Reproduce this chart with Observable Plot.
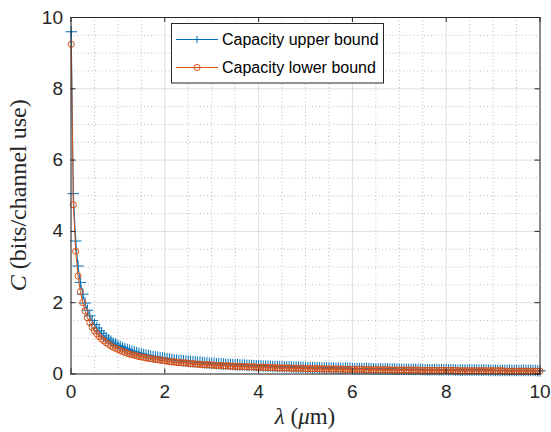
<!DOCTYPE html>
<html><head><meta charset="utf-8">
<script src="https://cdn.jsdelivr.net/npm/d3@7"></script>
<script src="https://cdn.jsdelivr.net/npm/@observablehq/plot@0.6"></script>
<style>
html,body{margin:0;padding:0;background:#fff;}
#chart{width:551px;height:432px;}
</style></head><body><div id="chart"></div>
<script>
// ---- data ----
const seriesNames = ["Capacity upper bound", "Capacity lower bound"];
const lambdaFirst = 0.005;   // first sample (µm)
const lambdaStep = 0.05;     // sample spacing (µm)
const upper = [9.60,
 5.06,3.73,3.03,2.57,2.24,1.99,1.79,1.63,1.50,1.39,1.29,1.21,1.14,1.07,1.01,0.96,0.92,0.87,0.84,0.80,
 0.77,0.74,0.71,0.69,0.66,0.64,0.62,0.60,0.58,0.56,0.55,0.53,0.52,0.50,0.49,0.48,0.47,0.46,0.45,0.44,
 0.43,0.42,0.41,0.40,0.39,0.38,0.38,0.37,0.36,0.36,0.35,0.34,0.34,0.33,0.33,0.32,0.31,0.31,0.30,0.30,
 0.30,0.29,0.29,0.28,0.28,0.27,0.27,0.27,0.26,0.26,0.26,0.25,0.25,0.25,0.24,0.24,0.24,0.23,0.23,0.23,
 0.23,0.22,0.22,0.22,0.22,0.21,0.21,0.21,0.21,0.20,0.20,0.20,0.20,0.20,0.19,0.19,0.19,0.19,0.19,0.18,
 0.18,0.18,0.18,0.18,0.18,0.17,0.17,0.17,0.17,0.17,0.17,0.17,0.16,0.16,0.16,0.16,0.16,0.16,0.16,0.15,
 0.15,0.15,0.15,0.15,0.15,0.15,0.15,0.15,0.14,0.14,0.14,0.14,0.14,0.14,0.14,0.14,0.14,0.14,0.13,0.13,
 0.13,0.13,0.13,0.13,0.13,0.13,0.13,0.13,0.13,0.12,0.12,0.12,0.12,0.12,0.12,0.12,0.12,0.12,0.12,0.12,
 0.12,0.12,0.12,0.11,0.11,0.11,0.11,0.11,0.11,0.11,0.11,0.11,0.11,0.11,0.11,0.11,0.11,0.11,0.10,0.10,
 0.10,0.10,0.10,0.10,0.10,0.10,0.10,0.10,0.10,0.10,0.10,0.10,0.10,0.10,0.10,0.10,0.10,0.10,0.09,0.09];
const lower = [9.25,
 4.75,3.44,2.75,2.31,2.00,1.77,1.58,1.44,1.31,1.21,1.13,1.05,0.98,0.93,0.88,0.83,0.79,0.75,0.72,0.69,
 0.66,0.63,0.61,0.58,0.56,0.54,0.53,0.51,0.49,0.48,0.47,0.45,0.44,0.43,0.42,0.41,0.40,0.39,0.38,0.37,
 0.36,0.35,0.34,0.34,0.33,0.32,0.32,0.31,0.31,0.30,0.29,0.29,0.28,0.28,0.27,0.27,0.26,0.26,0.26,0.25,
 0.25,0.24,0.24,0.24,0.23,0.23,0.23,0.22,0.22,0.22,0.21,0.21,0.21,0.21,0.20,0.20,0.20,0.20,0.19,0.19,
 0.19,0.19,0.19,0.18,0.18,0.18,0.18,0.17,0.17,0.17,0.17,0.17,0.17,0.16,0.16,0.16,0.16,0.16,0.16,0.15,
 0.15,0.15,0.15,0.15,0.15,0.15,0.14,0.14,0.14,0.14,0.14,0.14,0.14,0.14,0.14,0.13,0.13,0.13,0.13,0.13,
 0.13,0.13,0.13,0.13,0.12,0.12,0.12,0.12,0.12,0.12,0.12,0.12,0.12,0.12,0.12,0.11,0.11,0.11,0.11,0.11,
 0.11,0.11,0.11,0.11,0.11,0.11,0.11,0.11,0.10,0.10,0.10,0.10,0.10,0.10,0.10,0.10,0.10,0.10,0.10,0.10,
 0.10,0.10,0.10,0.10,0.09,0.09,0.09,0.09,0.09,0.09,0.09,0.09,0.09,0.09,0.09,0.09,0.09,0.09,0.09,0.09,
 0.09,0.09,0.09,0.09,0.08,0.08,0.08,0.08,0.08,0.08,0.08,0.08,0.08,0.08,0.08,0.08,0.08,0.08,0.08,0.08];
const xTicks = [0, 2, 4, 6, 8, 10];
const yTicks = [0, 2, 4, 6, 8, 10];
const minorTicks = [0.5,1,1.5,2.5,3,3.5,4.5,5,5.5,6.5,7,7.5,8.5,9,9.5];
const xLabel = ["λ", " (", "μ", "m)"];
const yLabel = ["C", " (bits/channel use)"];

// ---- build ----
const lam = i => (i === 0 ? lambdaFirst : i * lambdaStep);
const upperData = upper.map((v, i) => ({x: lam(i), y: v}));
const lowerData = lower.map((v, i) => ({x: lam(i), y: v}));

const W = 551, H = 432, mL = 70.5, mR = 11.5, mT = 17, mB = 58.5;
const innerW = W - mL - mR, innerH = H - mT - mB;
const blue = "#0072BD", orange = "#D95319", ink = "#262626";
const tick = 5;

const svg = Plot.plot({
  width: W, height: H,
  marginLeft: mL, marginRight: mR, marginTop: mT, marginBottom: mB,
  x: {domain: [0, 10]},
  y: {domain: [0, 10]},
  style: {fontFamily: "'Liberation Sans', Arial, Helvetica, sans-serif", fontSize: "19px", color: ink, background: "#fff", overflow: "visible"},
  marks: [
    Plot.gridX(minorTicks, {stroke: "#bdbdbd", strokeOpacity: 1, strokeDasharray: "1,2.5", strokeWidth: 1}),
    Plot.gridY(minorTicks, {stroke: "#bdbdbd", strokeOpacity: 1, strokeDasharray: "1,2.5", strokeWidth: 1}),
    Plot.gridX(xTicks, {stroke: "#dedede", strokeOpacity: 1, strokeWidth: 1}),
    Plot.gridY(yTicks, {stroke: "#dedede", strokeOpacity: 1, strokeWidth: 1}),
    Plot.line(upperData, {x: "x", y: "y", stroke: blue, strokeWidth: 1}),
    Plot.dot(upperData, {x: "x", y: "y", symbol: "plus", r: 3.8, stroke: blue, strokeWidth: 1}),
    Plot.line(lowerData, {x: "x", y: "y", stroke: orange, strokeWidth: 1}),
    Plot.dot(lowerData, {x: "x", y: "y", symbol: "circle", r: 3.1, stroke: orange, fill: "none", strokeWidth: 1}),
    Plot.frame({stroke: ink, strokeWidth: 1}),
    Plot.tickX(xTicks, {x: d => d, insetTop: innerH - tick, stroke: ink}),
    Plot.tickX(xTicks, {x: d => d, insetBottom: innerH - tick, stroke: ink}),
    Plot.tickY(yTicks, {y: d => d, insetRight: innerW - tick, stroke: ink}),
    Plot.tickY(yTicks, {y: d => d, insetLeft: innerW - tick, stroke: ink}),
    Plot.axisX(xTicks, {tickSize: 0, tickPadding: 10, label: null, fill: ink}),
    Plot.axisY(yTicks, {tickSize: 0, tickPadding: 8, label: null, fill: ink})
  ]
});
document.getElementById("chart").appendChild(svg);

const s = d3.select(svg);
// axis labels (LaTeX-like serif)
const serif = "'Liberation Serif', 'Times New Roman', serif";
const xl = s.append("text").attr("x", mL + innerW / 2).attr("y", 424)
  .attr("text-anchor", "middle").attr("font-family", serif).attr("font-size", 23).attr("fill", ink);
xl.append("tspan").attr("font-style", "italic").text(xLabel[0]);
xl.append("tspan").text(xLabel[1]);
xl.append("tspan").attr("font-style", "italic").text(xLabel[2]);
xl.append("tspan").text(xLabel[3]);

const yl = s.append("text").attr("transform", `translate(26,${mT + innerH / 2}) rotate(-90)`)
  .attr("text-anchor", "middle").attr("font-family", serif).attr("font-size", 24).attr("fill", ink);
yl.append("tspan").attr("font-style", "italic").text(yLabel[0]);
yl.append("tspan").text(yLabel[1]);

// legend
const lg = s.append("g").attr("font-family", "'Liberation Sans', Arial, sans-serif").attr("font-size", 16).attr("fill", "#000").attr("text-anchor", "start");
lg.append("rect").attr("x", 171.5).attr("y", 23.5).attr("width", 212).attr("height", 59.5)
  .attr("fill", "#fff").attr("stroke", ink).attr("stroke-width", 1);
const rows = [{name: seriesNames[0], color: blue, sym: "plus", y: 39.5}, {name: seriesNames[1], color: orange, sym: "circle", y: 67.5}];
rows.forEach(r => {
  lg.append("line").attr("x1", 176).attr("x2", 218).attr("y1", r.y).attr("y2", r.y).attr("stroke", r.color).attr("stroke-width", 1);
  if (r.sym === "plus") {
    lg.append("path").attr("d", `M193.5,${r.y}h7M197,${r.y - 3.5}v7`).attr("stroke", r.color).attr("fill", "none");
  } else {
    lg.append("circle").attr("cx", 197).attr("cy", r.y).attr("r", 3.1).attr("stroke", r.color).attr("fill", "none");
  }
  lg.append("text").attr("x", 222).attr("y", r.y).attr("dy", "0.36em").attr("text-anchor", "start").text(r.name);
});
</script></body></html>
